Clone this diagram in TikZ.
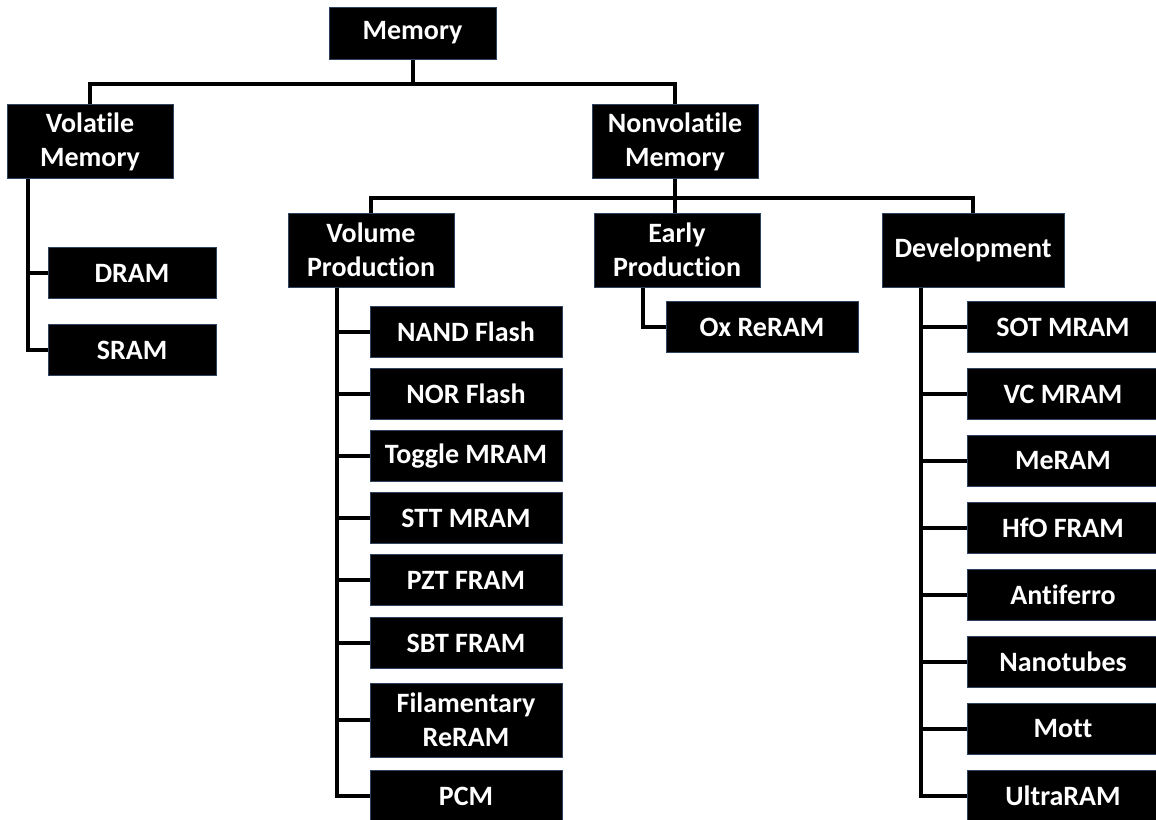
\documentclass[tikz,border=0pt]{standalone}
\usepackage{fontspec}
\setmainfont{Carlito}[Ligatures={NoCommon}]
\definecolor{BoxEdge}{HTML}{2F4260}
\tikzset{
  box/.style={draw=BoxEdge, line width=0.75pt, fill=black, text=white, align=center,
    inner sep=0pt, font=\bfseries\fontsize{21}{25.5}\selectfont},
  headbox/.style={box, minimum width=124.5pt, minimum height=55.5pt},
  leafbox/.style={box, minimum width=144pt, minimum height=38.25pt},
  link/.style={line width=3pt}
}
\begin{document}
\begin{tikzpicture}[x=0.75pt, y=-0.75pt]
  \useasboundingbox (0,0) rectangle (1156,819);
  \clip (0,0) rectangle (1156,819);

  % Top level
  \node[box, minimum width=125.25pt, minimum height=39pt] (mem) at (412.5,33) {Memory};
  \node[headbox] (vol) at (90,141.5) {Volatile\\Memory};
  \node[headbox] (nonvol) at (675,141.5) {Nonvolatile\\Memory};

  % Volatile branch
  \node[box, minimum width=126pt, minimum height=38.25pt] (dram) at (132,273) {DRAM};
  \node[box, minimum width=126pt, minimum height=38.25pt] (sram) at (132,350) {SRAM};

  % Nonvolatile branch
  \node[headbox] (volprod) at (371,250) {Volume\\Production};
  \node[headbox] (early) at (677,250) {Early\\Production};
  \node[headbox, minimum width=136.5pt] (dev) at (973,250) {Development};

  % Volume production
  \node[leafbox] (nand) at (466,332) {NAND Flash};
  \node[leafbox] (nor) at (466,394) {NOR Flash};
  \node[leafbox] (toggle) at (466,456) {Toggle MRAM};
  \node[leafbox] (stt) at (466,518) {STT MRAM};
  \node[leafbox] (pzt) at (466,580) {PZT FRAM};
  \node[leafbox] (sbt) at (466,643) {SBT FRAM};
  \node[leafbox, minimum height=55.5pt] (fila) at (466,720) {Filamentary\\ReRAM};
  \node[leafbox] (pcm) at (466,796) {PCM};

  % Early production
  \node[leafbox] (oxreram) at (762,327) {Ox ReRAM};

  % Development
  \node[leafbox] (sot) at (1063,327) {SOT MRAM};
  \node[leafbox] (vc) at (1063,394) {VC MRAM};
  \node[leafbox] (meram) at (1063,461) {MeRAM};
  \node[leafbox] (hfo) at (1063,528) {HfO FRAM};
  \node[leafbox] (afe) at (1063,595) {Antiferro};
  \node[leafbox] (nanotube) at (1063,662) {Nanotubes};
  \node[leafbox] (mott) at (1063,729) {Mott};
  \node[leafbox] (ultraram) at (1063,796) {UltraRAM};

  % Buses
  \coordinate (bus1) at (0,84);
  \coordinate (bus2) at (0,198);
  \draw[link] (mem.south) -- (mem.south |- bus1);
  \draw[link] (vol.north) -- (vol.north |- bus1) -- (nonvol.north |- bus1) -- (nonvol.north);
  \draw[link] (nonvol.south) -- (nonvol.south |- early.north);
  \draw[link] (volprod.north) -- (volprod.north |- bus2) -- (dev.north |- bus2) -- (dev.north);

  % Trunks
  \coordinate (voltrunk) at (28,0);
  \coordinate (vptrunk) at (337,0);
  \coordinate (eptrunk) at (643,0);
  \coordinate (devtrunk) at (921,0);

  \draw[link] (vol.south -| voltrunk) |- (dram.west);
  \draw[link] (vol.south -| voltrunk) |- (sram.west);

  \draw[link] (volprod.south -| vptrunk) |- (nand.west);
  \draw[link] (volprod.south -| vptrunk) |- (nor.west);
  \draw[link] (volprod.south -| vptrunk) |- (toggle.west);
  \draw[link] (volprod.south -| vptrunk) |- (stt.west);
  \draw[link] (volprod.south -| vptrunk) |- (pzt.west);
  \draw[link] (volprod.south -| vptrunk) |- (sbt.west);
  \draw[link] (volprod.south -| vptrunk) |- (fila.west);
  \draw[link] (volprod.south -| vptrunk) |- (pcm.west);

  \draw[link] (early.south -| eptrunk) |- (oxreram.west);

  \draw[link] (dev.south -| devtrunk) |- (sot.west);
  \draw[link] (dev.south -| devtrunk) |- (vc.west);
  \draw[link] (dev.south -| devtrunk) |- (meram.west);
  \draw[link] (dev.south -| devtrunk) |- (hfo.west);
  \draw[link] (dev.south -| devtrunk) |- (afe.west);
  \draw[link] (dev.south -| devtrunk) |- (nanotube.west);
  \draw[link] (dev.south -| devtrunk) |- (mott.west);
  \draw[link] (dev.south -| devtrunk) |- (ultraram.west);
\end{tikzpicture}
\end{document}
